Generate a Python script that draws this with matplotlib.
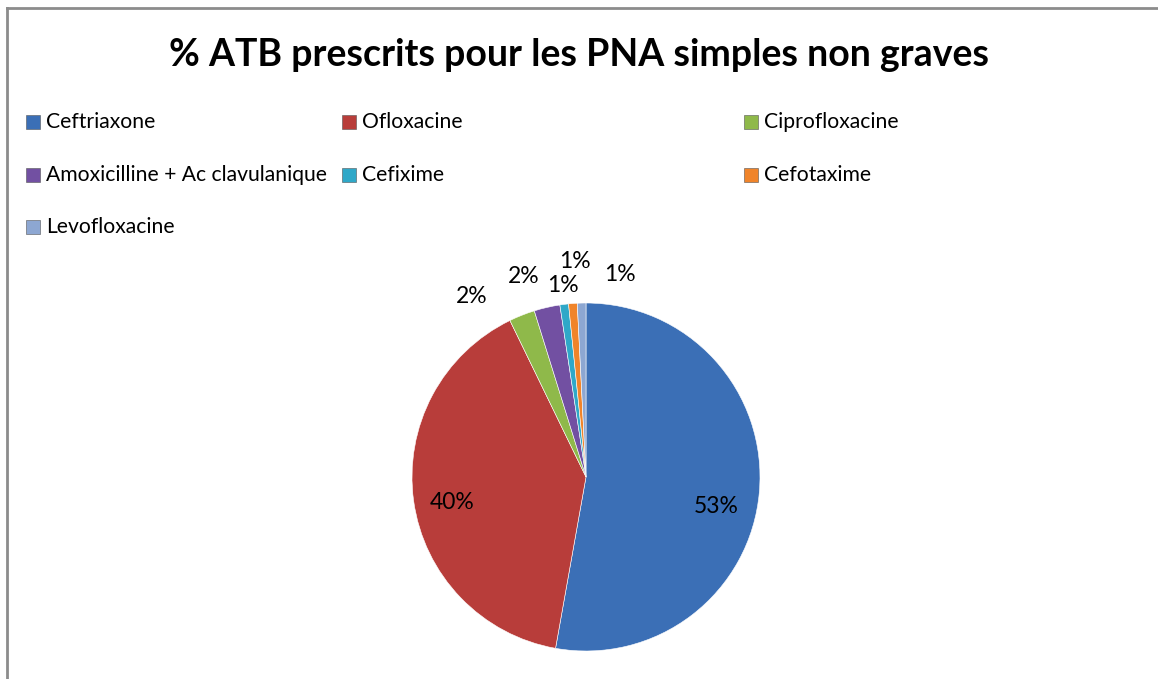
import matplotlib.pyplot as plt
from matplotlib.patches import Rectangle
from matplotlib.lines import Line2D

# data
categories = ["Ceftriaxone", "Ofloxacine", "Ciprofloxacine",
              "Amoxicilline + Ac clavulanique", "Cefixime", "Cefotaxime",
              "Levofloxacine"]
counts = [66, 50, 3, 3, 1, 1, 1]
colors = ["#3B6FB6", "#B83D3A", "#8FB94A", "#7250A2", "#2FA8C8", "#F0842A", "#8DA7D2"]

# label positions (pie data units), Excel "best fit" style
label_pos = [(0.747, -0.172), (-0.770, -0.149), (-0.655, 1.040),
             (-0.356, 1.155), (-0.132, 1.098), (-0.063, 1.236), (0.195, 1.161)]

W, H = 1158, 679
plt.rcParams['font.family'] = ['Lato', 'DejaVu Sans']
fig = plt.figure(figsize=(W / 100, H / 100), dpi=100)

# chart border (only top/left visible, rest cut off)
fig.lines.append(Line2D([7 / W, 1.0], [1 - 8 / H, 1 - 8 / H],
                        transform=fig.transFigure, color="#8c8c8c", linewidth=2))
fig.lines.append(Line2D([7 / W, 7 / W], [0.0, 1 - 8 / H],
                        transform=fig.transFigure, color="#8c8c8c", linewidth=2))

fig.text(0.5, 1 - 55 / H, "% ATB prescrits pour les PNA simples non graves",
         ha="center", va="center", fontsize=27, fontweight="bold")

# legend drawn by hand, 3 columns
col_x = [26, 342, 744]
row_y = [122, 175, 227]
for i, (name, c) in enumerate(zip(categories, colors)):
    cx = col_x[i % 3]
    cy = row_y[i // 3]
    fig.patches.append(Rectangle((cx / W, 1 - (cy + 7) / H), 14 / W, 14 / H,
                                 transform=fig.transFigure, facecolor=c,
                                 edgecolor="#555555", linewidth=0.4))
    fig.text((cx + 20) / W, 1 - cy / H, name, ha="left", va="center",
             fontsize=15.2)

# pie
cx, cy, r = 586, 477, 174
ax = fig.add_axes([(cx - r) / W, 1 - (cy + r) / H, 2 * r / W, 2 * r / H])
total = sum(counts)
wedges, _ = ax.pie(counts, colors=colors, startangle=90, counterclock=False,
                   wedgeprops=dict(edgecolor="white", linewidth=0.4))
for v, (lx, ly) in zip(counts, label_pos):
    ax.text(lx, ly, f"{round(100 * v / total)}%", ha="center", va="center",
            fontsize=16.5)
ax.set_xlim(-1, 1)
ax.set_ylim(-1, 1)
ax.set_aspect("auto")
ax.axis("off")

fig.savefig("out.png", dpi=100)
